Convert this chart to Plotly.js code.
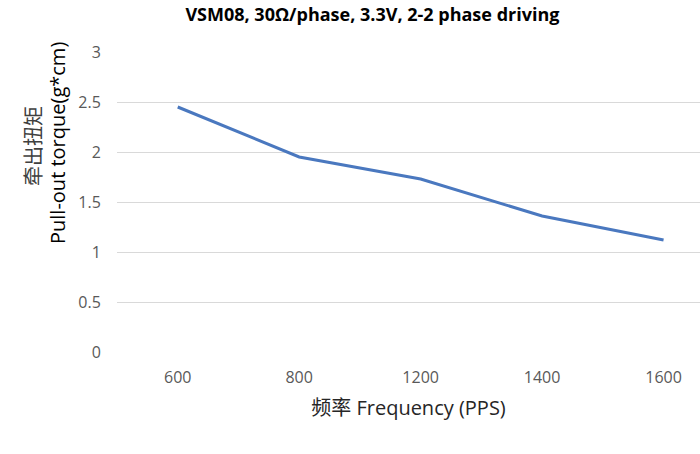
<!DOCTYPE html>
<html>
<head>
<meta charset="utf-8">
<script src="https://cdn.plot.ly/plotly-3.0.1.min.js"></script>
<style>html,body{margin:0;padding:0;background:#fff;}#chart{width:700px;height:454px;}</style>
</head>
<body>
<div id="chart"></div>
<script>
const frequencies = ["600", "800", "1200", "1400", "1600"];
const torque = [2.45, 1.95, 1.73, 1.36, 1.12];
const yTicks = [0, 0.5, 1, 1.5, 2, 2.5, 3];
const yTickText = ["0", "0.5", "1", "1.5", "2", "2.5", "3"];

const FONT = "Open Sans, Noto Sans CJK SC, sans-serif";

const trace = {
  x: frequencies,
  y: torque,
  type: "scatter",
  mode: "lines",
  line: {color: "#4a78bf", width: 3},
  hoverinfo: "skip"
};

const layout = {
  width: 700,
  height: 454,
  margin: {l: 117, r: 0, t: 52, b: 102},
  paper_bgcolor: "#ffffff",
  plot_bgcolor: "#ffffff",
  showlegend: false,
  title: {
    text: "<b>VSM08, 30Ω/phase, 3.3V, 2-2 phase driving</b>",
    font: {family: FONT, size: 18, color: "#000000"},
    x: 0.532, xanchor: "center",
    y: 0.968, yanchor: "middle"
  },
  xaxis: {
    type: "category",
    range: [-0.5, 4.3],
    showgrid: false,
    zeroline: false,
    showline: false,
    ticks: "outside",
    ticklen: 11,
    tickcolor: "rgba(0,0,0,0)",
    tickfont: {family: FONT, size: 16, color: "#595959"},
    title: {
      text: "频率 Frequency (PPS)",
      font: {family: FONT, size: 20, color: "#262626"},
      standoff: 13
    }
  },
  yaxis: {
    range: [0, 3],
    tickvals: yTicks,
    ticktext: yTickText,
    showgrid: true,
    gridcolor: "#d9d9d9",
    gridwidth: 1,
    zeroline: false,
    showline: false,
    ticks: "outside",
    ticklen: 12,
    tickcolor: "rgba(0,0,0,0)",
    tickfont: {family: FONT, size: 16, color: "#595959"}
  },
  annotations: [
    {
      text: "牵出扭矩",
      xref: "paper", yref: "paper",
      x: (33 - 117) / 583, y: (352 - 146) / 300,
      xanchor: "center", yanchor: "middle",
      textangle: -90, showarrow: false,
      font: {family: FONT, size: 20, color: "#404040"}
    },
    {
      text: "Pull-out torque(g*cm)",
      xref: "paper", yref: "paper",
      x: (57 - 117) / 583, y: (352 - 143) / 300,
      xanchor: "center", yanchor: "middle",
      textangle: -90, showarrow: false,
      font: {family: FONT, size: 20, color: "#000000"}
    }
  ]
};

Plotly.newPlot("chart", [trace], layout, {displayModeBar: false, staticPlot: true});
</script>
</body>
</html>
